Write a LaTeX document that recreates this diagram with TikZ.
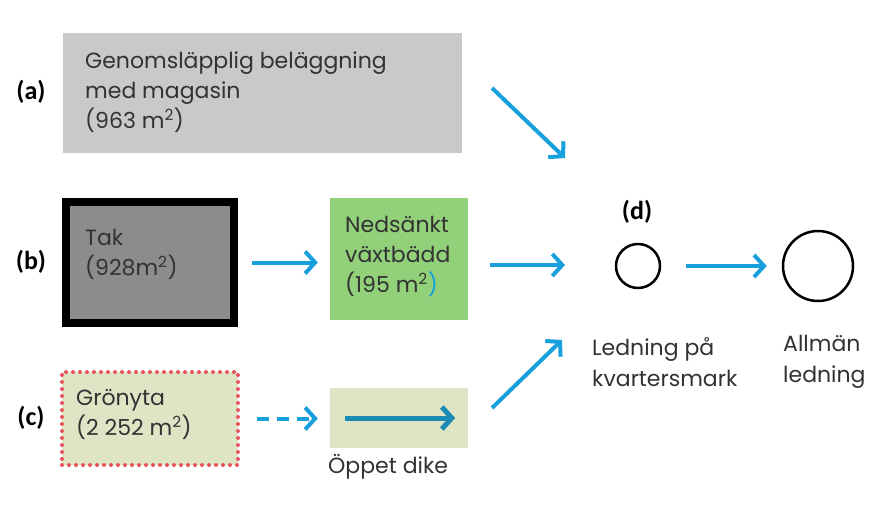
\documentclass[tikz,border=0pt]{standalone}
\usepackage{fontspec}
\setmainfont{Poppins}
\newfontfamily\tagfont{Carlito}
\usetikzlibrary{arrows.meta, positioning}

\definecolor{flowblue}{RGB}{24,160,220}
\definecolor{dikeblue}{RGB}{26,140,180}
\definecolor{paveGray}{RGB}{201,201,201}
\definecolor{roofGray}{RGB}{140,140,140}
\definecolor{bedGreen}{RGB}{146,208,122}
\definecolor{lawnGreen}{RGB}{223,228,196}
\definecolor{dotRed}{RGB}{232,84,94}
\definecolor{ink}{RGB}{50,50,50}

\begin{document}
\begin{tikzpicture}[
  x=1pt, y=-1pt,
  every node/.style={inner sep=0pt, text=ink},
  txt/.style={anchor=west, align=left, font=\fontsize{22}{30}\selectfont},
  tag/.style={font=\tagfont\bfseries\fontsize{26}{28}\selectfont, text=black},
  flow/.style={-{Straight Barb[length=10pt, width=22pt]}, line width=4pt, draw=flowblue},
  pipe/.style={draw=black, circle, line width=2.5pt}
]
  \useasboundingbox (0,0) rectangle (869,504);

  % areas
  \node[fill=paveGray, minimum width=399pt, minimum height=120pt] (pave) at (262,93) {};
  \node[fill=roofGray, draw=black, line width=8pt,
        minimum width=168pt, minimum height=121pt] (roof) at (150,262.5) {};
  \node[fill=bedGreen, minimum width=138pt, minimum height=122pt] (bed) at (399,259) {};
  \node[fill=lawnGreen, draw=dotRed, line width=4pt, line cap=round,
        dash pattern=on 0pt off 7pt,
        minimum width=176pt, minimum height=93pt] (lawn) at (150,418.5) {};
  \node[fill=lawnGreen, minimum width=138pt, minimum height=60pt] (dike) at (399,418) {};

  % texts in the areas
  \node[txt] at (85,92) {Genomsläpplig beläggning\\med magasin\\(963 m\textsuperscript{2})};
  \node[txt] at (85,254) {Tak\\(928m\textsuperscript{2})};
  \node[txt] at (345,256) {Nedsänkt\\växtbädd\\(195 m\textsuperscript{2}\textcolor{flowblue}{)}};
  \node[txt] at (76,414) {Grönyta\\(2 252 m\textsuperscript{2})};
  \node[txt] (dikelabel) at (328,467) {Öppet dike};

  % letters
  \node[tag] (ta) at (31,92) {(a)};
  \node[tag] (tb) at (31,262) {(b)};
  \node[tag] (tc) at (31,418) {(c)};

  % pipes
  \node[pipe, minimum size=44pt] (local) at (638,266) {};
  \node[pipe, minimum size=70pt] (public) at (818,266) {};
  \node[tag] (td) at (637,212) {(d)};
  \node[txt, font=\fontsize{22}{31}\selectfont] at (592,362) {Ledning på\\kvartersmark};
  \node[txt, font=\fontsize{22}{31}\selectfont] at (783,362) {Allmän\\ledning};

  % free ends of the arrows
  \coordinate (fromA) at (492,88);
  \coordinate (toA) at (565,158);
  \coordinate (toB) at (565,265);
  \coordinate (fromC) at (492,408);
  \coordinate (toC) at (562,340);

  % flows
  \draw[flow] (fromA) -- (toA);
  \draw[flow, shorten <=14pt, shorten >=12pt] (roof.east) -- (roof.east -| bed.west);
  \draw[flow, shorten <=22pt] (bed.east |- toB) -- (toB);
  \draw[flow, dash pattern=on 12pt off 8pt, shorten <=17pt, shorten >=12pt] (lawn.east) -- (lawn.east -| dike.west);
  \draw[-{Straight Barb[length=10pt, width=22pt]}, line width=5pt, draw=dikeblue,
        shorten <=15pt, shorten >=13pt] (dike.west) -- (dike.east);
  \draw[flow] (fromC) -- (toC);
  \draw[flow, shorten <=25pt, shorten >=15pt] (local.east) -- (public.west);
\end{tikzpicture}
\end{document}
